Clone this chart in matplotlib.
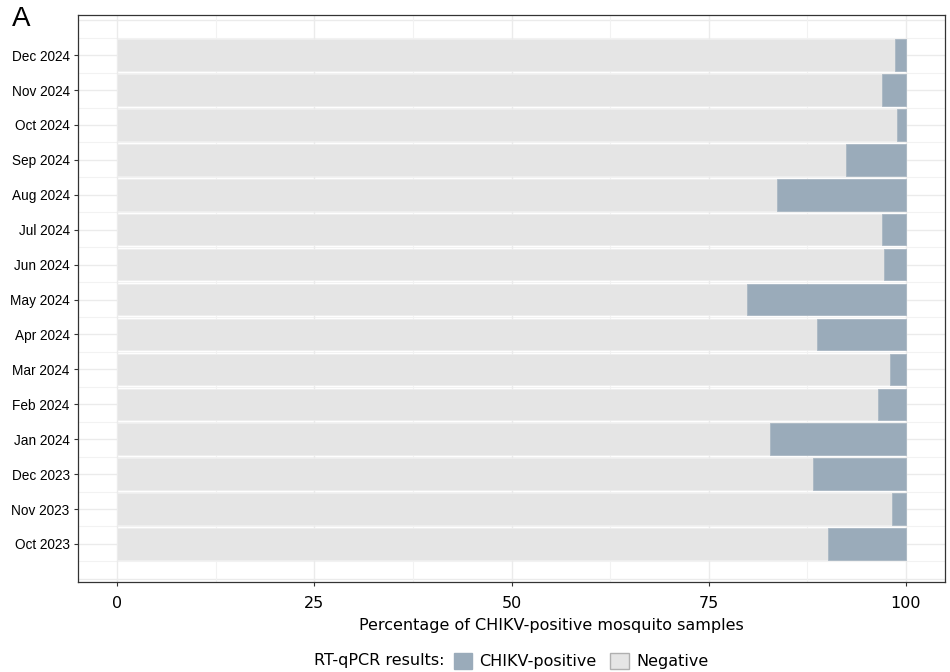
import matplotlib.pyplot as plt
import matplotlib.patches as mpatches

# Monthly share of CHIKV-positive mosquito pools (RT-qPCR), Oct 2023 - Dec 2024
months = ["Oct 2023", "Nov 2023", "Dec 2023", "Jan 2024", "Feb 2024", "Mar 2024",
          "Apr 2024", "May 2024", "Jun 2024", "Jul 2024", "Aug 2024", "Sep 2024",
          "Oct 2024", "Nov 2024", "Dec 2024"]
positive = [9.9, 1.7, 11.7, 17.2, 3.5, 2.0, 11.3, 20.1, 2.7, 3.0, 16.3, 7.5, 1.1, 3.0, 1.4]
negative = [100 - p for p in positive]

col_pos = "#9aabba"
col_neg = "#e5e5e5"

fig = plt.figure(figsize=(9.5, 6.72), dpi=100)
ax = fig.add_axes([78 / 950, 1 - 582 / 672, (945 - 78) / 950, (582 - 15) / 672])

y = list(range(1, len(months) + 1))
ax.barh(y, negative, height=0.9, color=col_neg, edgecolor="#eeeeee", linewidth=0.6, zorder=2)
ax.barh(y, positive, left=negative, height=0.9, color=col_pos, edgecolor="#a9b7c3",
        linewidth=0.6, zorder=2)

ax.set_xlim(-5, 105)
ax.set_ylim(-0.09, len(months) + 1.15)

# background grid: vertical major/minor, horizontal every half step
ax.set_xticks([0, 25, 50, 75, 100])
ax.set_xticks([12.5, 37.5, 62.5, 87.5], minor=True)
ax.grid(which="major", axis="x", color="#ebebeb", linewidth=1.0, zorder=0)
ax.grid(which="minor", axis="x", color="#f2f2f2", linewidth=0.8, zorder=0)
for k in range(0, len(months) + 2):
    ax.axhline(k, color="#ebebeb", linewidth=1.0, zorder=0)
    ax.axhline(k + 0.5, color="#f2f2f2", linewidth=0.8, zorder=0)
ax.set_axisbelow(True)

ax.set_yticks(y)
ax.set_yticklabels(months, fontsize=9.8, family="Liberation Sans")
ax.tick_params(axis="x", labelsize=11.5, length=3, color="#333333", pad=7)
ax.tick_params(axis="y", length=3, color="#333333", pad=3)
ax.tick_params(which="minor", length=0)
for s in ax.spines.values():
    s.set_color("#333333")
    s.set_linewidth(0.9)

ax.set_xlabel("Percentage of CHIKV-positive mosquito samples", fontsize=11.5, labelpad=7)
ax.xaxis.set_label_coords((551 - 78) / 867, -0.064)

fig.text(12 / 950, 1 - 18.5 / 672, "A", fontsize=20, family="Liberation Sans", va="center", ha="left")

# legend along the bottom
fig.text(445 / 950, 1 - 661 / 672, "RT-qPCR results:", fontsize=11.5, ha="right", va="center")
handles = [mpatches.Patch(facecolor=col_pos, edgecolor=col_pos, label="CHIKV-positive"),
           mpatches.Patch(facecolor=col_neg, edgecolor="#b0b0b0", label="Negative")]
fig.legend(handles=handles, loc="center left", bbox_to_anchor=(454 / 950, 1 - 661 / 672),
           ncol=2, frameon=False, fontsize=11.5, handlelength=1.15, handleheight=1.15,
           handletextpad=0.45, columnspacing=0.85, borderpad=0, borderaxespad=0)

fig.savefig("out.png", dpi=100)
